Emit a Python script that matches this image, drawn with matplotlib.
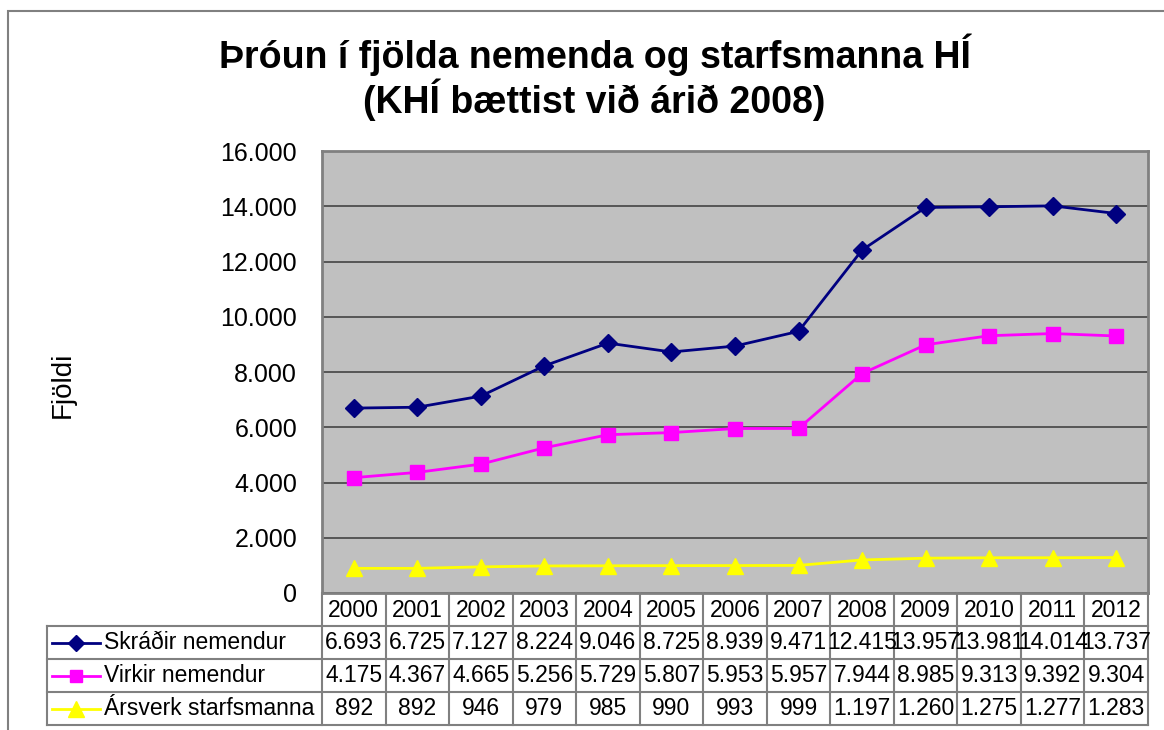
import matplotlib.pyplot as plt
import numpy as np
from matplotlib.lines import Line2D
from matplotlib.patches import Rectangle

plt.rcParams['font.family'] = ['Liberation Sans', 'DejaVu Sans']

# Data
years = ['2000', '2001', '2002', '2003', '2004', '2005', '2006',
         '2007', '2008', '2009', '2010', '2011', '2012']
skradir = [6693, 6725, 7127, 8224, 9046, 8725, 8939, 9471, 12415, 13957, 13981, 14014, 13737]
virkir = [4175, 4367, 4665, 5256, 5729, 5807, 5953, 5957, 7944, 8985, 9313, 9392, 9304]
arsverk = [892, 892, 946, 979, 985, 990, 993, 999, 1197, 1260, 1275, 1277, 1283]
series_names = ['Skráðir nemendur', 'Virkir nemendur', 'Ársverk starfsmanna']
yticks = [0, 2000, 4000, 6000, 8000, 10000, 12000, 14000, 16000]

W, H = 1164, 730
fig = plt.figure(figsize=(W / 100, H / 100), dpi=100)

# layout in pixels
PL, PR, PT, PB = 322, 1148, 151, 593
ROW_H = 33
LAB_L = 47
GRID_C = '#808080'


def fx(px):
    return px / W


def fy(py):
    return 1 - py / H


def fmt(v):
    return f'{v:,}'.replace(',', '.')


ax = fig.add_axes([fx(PL), fy(PB), fx(PR - PL), (PB - PT) / H])
ax.set_facecolor('#C0C0C0')
x = np.arange(len(years))
styles = [
    (skradir, '#000080', 'D', 9),
    (virkir, '#FF00FF', 's', 10),
    (arsverk, '#FFFF00', '^', 12),
]
for vals, col, mk, ms in styles:
    ax.plot(x, vals, color=col, marker=mk, markersize=ms, linewidth=2,
            markeredgecolor=col, zorder=3)

ax.set_xlim(-0.5, len(years) - 0.5)
ax.set_ylim(0, 16000)
ax.set_yticks(yticks)
ax.set_yticklabels([fmt(v) for v in yticks], fontsize=18)
ax.set_xticks([])
ax.tick_params(axis='y', length=0, pad=18)
ax.yaxis.grid(True, color='#4D4D4D', linewidth=1.3)
ax.set_axisbelow(True)
for s in ax.spines.values():
    s.set_color(GRID_C)
    s.set_linewidth(2)

# title and y label
fig.text(fx(595), fy(55), 'Þróun í fjölda nemenda og starfsmanna HÍ',
         ha='center', va='center', fontsize=27, fontweight='bold')
fig.text(fx(594), fy(100), '(KHÍ bættist við árið 2008)',
         ha='center', va='center', fontsize=27, fontweight='bold')
fig.text(fx(63), fy(385), 'Fjöldi', rotation=90, ha='center', va='center', fontsize=20)

# outer chart border
fig.patches.append(Rectangle((fx(8), -0.1), 1.2, fy(11) + 0.1, transform=fig.transFigure,
                             fill=False, edgecolor='#808080', linewidth=1.5))

# data table
ncol = len(years)
cw = (PR - PL) / ncol
tab_bottom = PB + ROW_H * 4
for i in range(ncol + 1):
    xx = PL + i * cw
    fig.add_artist(Line2D([fx(xx), fx(xx)], [fy(PB), fy(tab_bottom)],
                          color=GRID_C, linewidth=1.5))
fig.add_artist(Line2D([fx(LAB_L), fx(LAB_L)], [fy(PB + ROW_H), fy(tab_bottom)],
                      color=GRID_C, linewidth=1.5))
for r in range(1, 5):
    yy = PB + r * ROW_H
    fig.add_artist(Line2D([fx(LAB_L), fx(PR)], [fy(yy), fy(yy)],
                          color=GRID_C, linewidth=1.5))

for i, yr in enumerate(years):
    fig.text(fx(PL + (i + 0.5) * cw), fy(PB + ROW_H / 2 + 1), yr,
             ha='center', va='center', fontsize=16.5)

for r, ((vals, col, mk, ms), name) in enumerate(zip(styles, series_names)):
    cy = PB + (r + 1.5) * ROW_H
    fig.add_artist(Line2D([fx(52), fx(100)], [fy(cy), fy(cy)], color=col, linewidth=2))
    fig.add_artist(Line2D([fx(76)], [fy(cy)], color=col, marker=mk, markersize=ms - 1,
                          markeredgecolor=col))
    fig.text(fx(104), fy(cy), name, ha='left', va='center', fontsize=16.5)
    for i, v in enumerate(vals):
        fig.text(fx(PL + (i + 0.5) * cw), fy(cy), fmt(v),
                 ha='center', va='center', fontsize=16.5)

fig.savefig('out.png', dpi=100)
